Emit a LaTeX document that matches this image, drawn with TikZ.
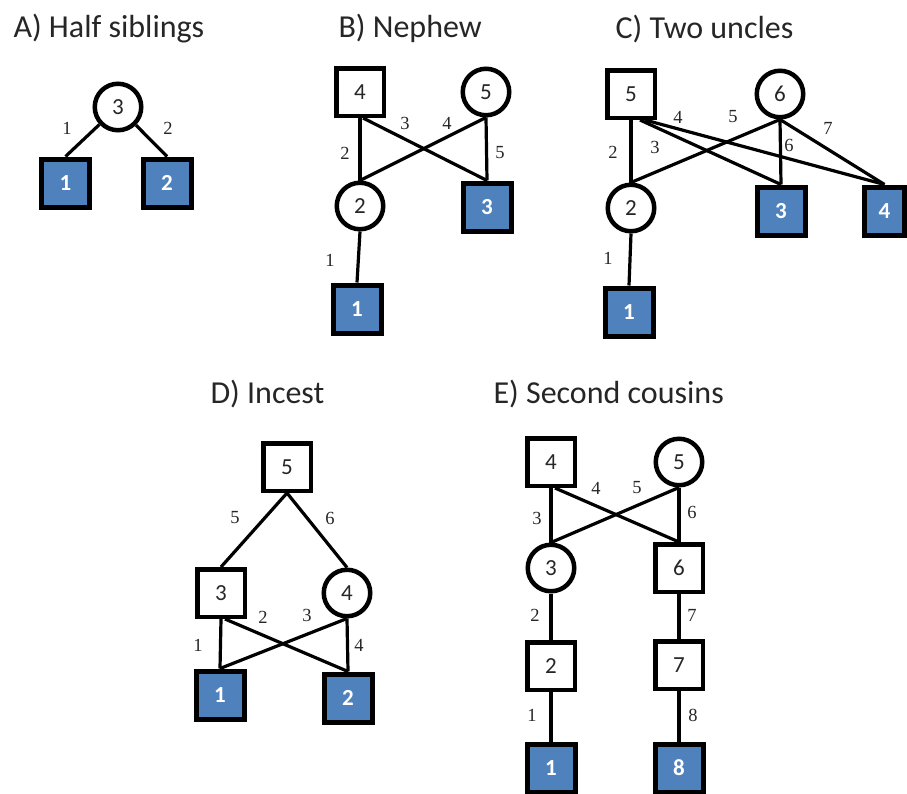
\documentclass[tikz,border=0pt]{standalone}
\usepackage{fontspec}
\setmainfont{Carlito}
\newfontfamily\serifnum{Liberation Serif}
\definecolor{pblue}{RGB}{79,129,189}
\begin{document}
\begin{tikzpicture}[x=1pt,y=-1pt,
  ttl/.style={anchor=base west, font=\fontsize{32}{36}\selectfont, text=black!85},
  sq/.style={draw, line width=4.5pt, minimum size=47.5pt, inner sep=0pt, fill=white, font=\fontsize{23}{25}\selectfont, text=black!85},
  ci/.style={draw, circle, line width=4.5pt, minimum size=46.5pt, inner sep=0pt, fill=white, font=\fontsize{23}{25}\selectfont, text=black!85},
  aff/.style={draw, line width=5pt, minimum size=48pt, inner sep=0pt, fill=pblue, text=white, font=\bfseries\fontsize{23}{25}\selectfont},
  edge/.style={line width=3.2pt},
  lab/.style={inner sep=0pt, font=\serifnum\fontsize{18.5}{21}\selectfont, text=black!85}]
\useasboundingbox (0,0) rectangle (907,793);
% ---------- A ----------
\node[ttl] (tA) at (10,37) {A) Half siblings};
\node[ci]  (A3) at (118,107) {3};
\node[aff] (A1) at (65.5,183) {1};
\node[aff] (A2) at (167,183) {2};
\draw[edge] (A3) -- (A1.north);
\draw[edge] (A3) -- (A2.north);
\node[lab] (Al1) at (67,128) {1};
\node[lab] (Al2) at (168,128) {2};
% ---------- B ----------
\node[ttl] (tB) at (335,37) {B) Nephew};
\node[sq]  (B4) at (360,92) {4};
\node[ci]  (B5) at (486,92) {5};
\node[ci]  (B2) at (360,206) {2};
\node[aff] (B3) at (487,207) {3};
\node[aff] (B1) at (357,309) {1};
\draw[edge] (B4.south) -- (B2.north);
\draw[edge] ([xshift=3pt]B4.south) -- (B3.north);
\draw[edge] (B5.south) -- (B2.north);
\draw[edge] (B5.south) -- (B3.north);
\draw[edge] (B2.south) -- (B1.north);
\node[lab] (Bl2) at (345,153) {2};
\node[lab] (Bl3) at (405,123) {3};
\node[lab] (Bl4) at (447,123) {4};
\node[lab] (Bl5) at (500,153) {5};
\node[lab] (Bl1) at (330,260) {1};
% ---------- C ----------
\node[ttl] (tC) at (612,38) {C) Two uncles};
\node[sq]  (C5) at (631,94) {5};
\node[ci]  (C6) at (780,94) {6};
\node[ci]  (C2) at (631,208) {2};
\node[aff] (C3) at (781,211) {3};
\node[aff, minimum width=40pt] (C4) at (884.5,211) {4};
\node[aff] (C1) at (629,312) {1};
\draw[edge] (C5.south) -- (C2.north);
\draw[edge] ([xshift=9pt]C5.south) -- (C3.north);
\draw[edge] ([xshift=14pt]C5.south) -- (C4.north);
\draw[edge] (C6.south) -- (C2.north);
\draw[edge] (C6.south) -- (C3.north);
\draw[edge] (C6.south) -- (C4.north);
\draw[edge] (C2.south) -- (C1.north);
\node[lab] (Cl4) at (678,117) {4};
\node[lab] (Cl5) at (733,117) {5};
\node[lab] (Cl7) at (828,128) {7};
\node[lab] (Cl2) at (613,152) {2};
\node[lab] (Cl3) at (655,147) {3};
\node[lab] (Cl6) at (789,145) {6};
\node[lab] (Cl1) at (608,258) {1};
% ---------- D ----------
\node[ttl] (tD) at (207,403) {D) Incest};
\node[sq]  (D5) at (287,467) {5};
\node[sq]  (D3) at (221,593) {3};
\node[ci]  (D4) at (347,593) {4};
\node[aff] (D1) at (220,695) {1};
\node[aff] (D2) at (348,698) {2};
\draw[edge] (D5.south) -- (D3.north);
\draw[edge] (D5.south) -- (D4.north);
\draw[edge] (D3.south) -- (D1.north);
\draw[edge] ([xshift=4pt]D3.south) -- (D2.north);
\draw[edge] (D4.south) -- (D1.north);
\draw[edge] (D4.south) -- (D2.north);
\node[lab] (Dl5) at (235,518) {5};
\node[lab] (Dl6) at (330,518) {6};
\node[lab] (Dl2) at (263,617) {2};
\node[lab] (Dl3) at (307,615) {3};
\node[lab] (Dl1) at (198,645) {1};
\node[lab] (Dl4) at (359,645) {4};
% ---------- E ----------
\node[ttl] (tE) at (490,403) {E) Second cousins};
\node[sq]  (E4) at (551,462) {4};
\node[ci]  (E5) at (679,462) {5};
\node[ci]  (E3) at (551,568) {3};
\node[sq]  (E6) at (679,568) {6};
\node[sq]  (E2) at (551,666) {2};
\node[sq]  (E7) at (679,665) {7};
\node[aff] (E1) at (551,768) {1};
\node[aff] (E8) at (679,768) {8};
\draw[edge] (E4.south) -- (E3.north);
\draw[edge] ([xshift=4pt]E4.south) -- (E6.north);
\draw[edge] (E5.south) -- (E3.north);
\draw[edge] (E5.south) -- (E6.north);
\draw[edge] (E3.south) -- (E2.north);
\draw[edge] (E6.south) -- (E7.north);
\draw[edge] (E2.south) -- (E1.north);
\draw[edge] (E7.south) -- (E8.north);
\node[lab] (El3) at (537,518) {3};
\node[lab] (El4) at (596,488) {4};
\node[lab] (El5) at (637,488) {5};
\node[lab] (El6) at (692,512) {6};
\node[lab] (El2) at (535,615) {2};
\node[lab] (El7) at (692,615) {7};
\node[lab] (El1) at (532,715) {1};
\node[lab] (El8) at (693,715) {8};
\end{tikzpicture}
\end{document}
